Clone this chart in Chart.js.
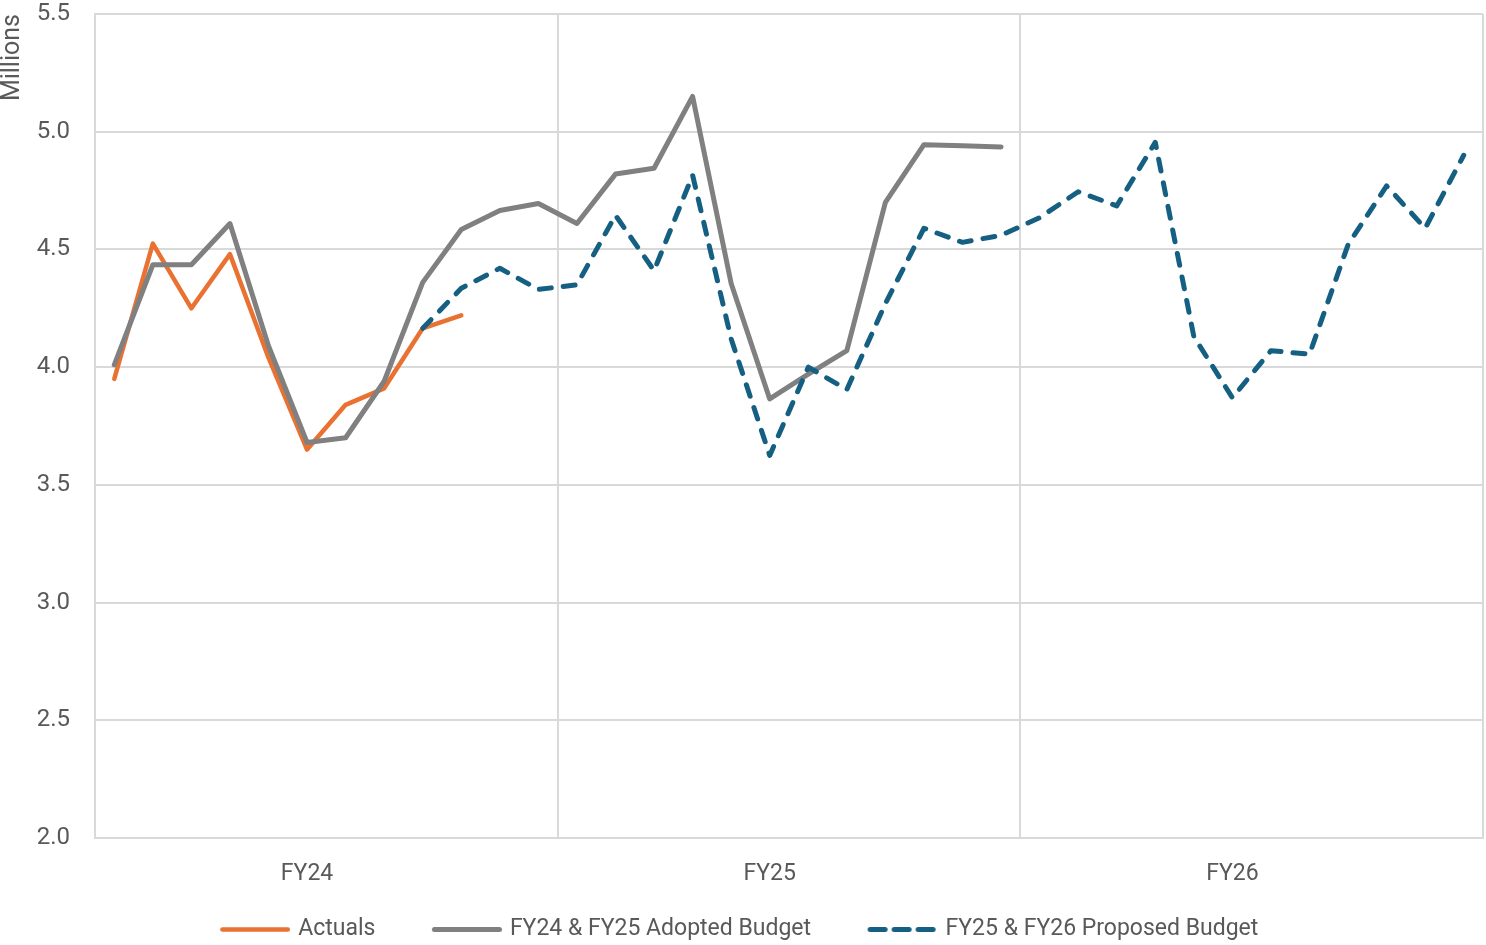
<!DOCTYPE html>
<html>
<head>
<meta charset="utf-8">
<script src="https://cdn.jsdelivr.net/npm/chart.js@4.4.1/dist/chart.umd.min.js"></script>
<style>
  html, body { margin: 0; padding: 0; background: #ffffff; }
  #wrap { width: 1486px; height: 945px; position: relative; }
</style>
</head>
<body>
<div id="wrap"><canvas id="c"></canvas></div>
<script>
// ---- data ----
const fiscalYears = ['FY24', 'FY25', 'FY26'];
const months = ['Jul', 'Aug', 'Sep', 'Oct', 'Nov', 'Dec', 'Jan', 'Feb', 'Mar', 'Apr', 'May', 'Jun'];
const categories = fiscalYears.flatMap(fy => months.map(m => fy + ' ' + m));

const yTicks = [2.0, 2.5, 3.0, 3.5, 4.0, 4.5, 5.0, 5.5];

const seriesNames = ['Actuals', 'FY24 & FY25 Adopted Budget', 'FY25 & FY26 Proposed Budget'];

const actuals = [3.95, 4.525, 4.25, 4.48, 4.04, 3.65, 3.84, 3.91, 4.165, 4.22,
  null, null, null, null, null, null, null, null, null, null, null, null, null, null,
  null, null, null, null, null, null, null, null, null, null, null, null];

const adopted = [4.01, 4.435, 4.435, 4.61, 4.09, 3.68, 3.70, 3.94, 4.36, 4.585, 4.665, 4.695,
  4.61, 4.82, 4.845, 5.15, 4.355, 3.865, 3.97, 4.07, 4.70, 4.945, 4.94, 4.935,
  null, null, null, null, null, null, null, null, null, null, null, null];

const proposed = [null, null, null, null, null, null, null, null, 4.165, 4.335, 4.42, 4.33,
  4.35, 4.645, 4.41, 4.815, 4.12, 3.625, 4.0, 3.905, 4.27, 4.59, 4.53, 4.56,
  4.635, 4.745, 4.685, 4.955, 4.13, 3.87, 4.07, 4.055, 4.52, 4.77, 4.59, 4.90];

const colors = ['#E97132', '#808080', '#156082'];
const widths = [4.5, 5, 5];
const dashes = [[], [], [12, 12]];

// ---- legend samples: 70px line swatch, placed at the right of a slightly wider image ----
function swatch(color, width, dash) {
  const cv = document.createElement('canvas');
  cv.width = 98; cv.height = 23;
  const g = cv.getContext('2d');
  g.strokeStyle = color; g.lineWidth = width; g.lineCap = 'round';
  if (dash.length) g.setLineDash([15, 9]);
  g.beginPath(); g.moveTo(28 + width / 2, 11.5); g.lineTo(98 - width / 2, 11.5); g.stroke();
  return cv;
}

// ---- chart ----
const FONT = "Roboto, 'Liberation Sans', Arial, sans-serif";
const TEXT = '#595959';
const GRID = '#d9d9d9';
const SHIFT = 29;

const datasets = [actuals, adopted, proposed].map((d, i) => ({
  label: seriesNames[i],
  data: d,
  order: 2 - i,
  borderColor: colors[i],
  backgroundColor: colors[i],
  borderWidth: widths[i],
  borderDash: dashes[i],
  borderCapStyle: 'round',
  borderJoinStyle: 'round',
  pointStyle: swatch(colors[i], widths[i], dashes[i]),
  pointRadius: 0,
  pointHoverRadius: 0
}));

new Chart(document.getElementById('c'), {
  type: 'line',
  data: { labels: categories, datasets: datasets },
  options: {
    responsive: true,
    maintainAspectRatio: false,
    devicePixelRatio: 1,
    animation: false,
    events: [],
    layout: { padding: { top: 14, right: 3, bottom: -6, left: -SHIFT } },
    elements: { line: { tension: 0, fill: false } },
    plugins: {
      tooltip: { enabled: false },
      legend: {
        position: 'bottom',
        align: 'center',
        labels: {
          usePointStyle: true,
          pointStyleWidth: 91,
          boxHeight: 23,
          padding: 32,
          color: TEXT,
          font: { family: FONT, size: 23 },
          sort: (a, b) => a.datasetIndex - b.datasetIndex
        }
      }
    },
    scales: {
      x: {
        type: 'category',
        offset: true,
        grid: {
          offset: true,
          drawTicks: false,
          lineWidth: 2,
          color: (c) => (c.type !== 'tick' || c.index % 12 === 0) ? GRID : 'rgba(0,0,0,0)'
        },
        border: { display: true, color: GRID, width: 2 },
        ticks: {
          autoSkip: false,
          maxRotation: 0,
          minRotation: 0,
          padding: 22,
          color: TEXT,
          font: { family: FONT, size: 23 },
          callback: (value, index) => index % 12 === 5 ? fiscalYears[Math.floor(index / 12)] : ''
        },
        afterFit: (scale) => { scale.height = 48; scale.paddingLeft = 0; scale.paddingRight = 0; }
      },
      y: {
        min: yTicks[0],
        max: yTicks[yTicks.length - 1],
        afterBuildTicks: (scale) => { scale.ticks = yTicks.map(v => ({ value: v })); },
        grid: { drawTicks: false, lineWidth: 2, color: GRID },
        border: { display: true, color: GRID, width: 2 },
        ticks: {
          padding: 25,
          color: TEXT,
          font: { family: FONT, size: 24 },
          callback: (v) => Number(v).toFixed(1)
        },
        title: {
          display: true,
          text: 'Millions',
          align: 'end',
          color: TEXT,
          padding: { top: SHIFT, bottom: 0 },
          font: { family: FONT, size: 25, lineHeight: 1 }
        },
        afterFit: (scale) => { scale.width = 95 + SHIFT; scale.paddingTop = 14; scale.paddingBottom = 14; }
      }
    }
  }
});
</script>
</body>
</html>
